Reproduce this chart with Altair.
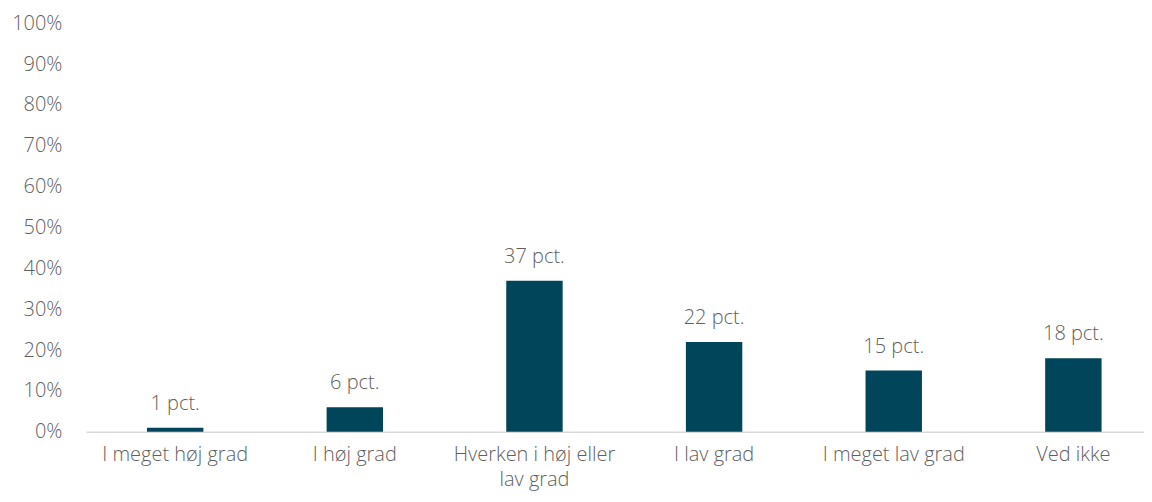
import altair as alt
import pandas as pd

categories = ["I meget høj grad", "I høj grad", "Hverken i høj eller lav grad",
              "I lav grad", "I meget lav grad", "Ved ikke"]
values = [1, 6, 37, 22, 15, 18]
labels = [f"{v} pct." for v in values]

df = pd.DataFrame({"cat": categories, "val": [v / 100 for v in values], "lab": labels})

FONT = "Open Sans"
GRAY = "#5f5f5f"
FS = 20

x = alt.X("cat:N", sort=categories, title=None,
          scale=alt.Scale(paddingInner=0.686, paddingOuter=0.288, align=0.59),
          axis=alt.Axis(labelAngle=0, ticks=False, domainColor="#d9d9d9", domainWidth=1.5,
                        labelFont=FONT, labelFontSize=FS, labelColor=GRAY, labelFontWeight=300,
                        labelPadding=13, labelLineHeight=25, labelLimit=300,
                        labelExpr="datum.label == 'Hverken i høj eller lav grad' ? ['Hverken i høj eller', 'lav grad'] : datum.label"))
y = alt.Y("val:Q", title=None,
          scale=alt.Scale(domain=[0, 1]),
          axis=alt.Axis(format=".0%", values=[i / 10 for i in range(11)], grid=False,
                        domain=False, ticks=False, labelFont=FONT, labelFontSize=FS,
                        labelFontWeight=300, labelColor=GRAY, labelPadding=24))

bars = alt.Chart(df).mark_bar(color="#004559").encode(x=x, y=y)
text = alt.Chart(df).mark_text(font=FONT, fontSize=FS, fontWeight=300, color=GRAY,
                               baseline="middle", dy=-24).encode(
    x=alt.X("cat:N", sort=categories), y="val:Q", text="lab:N")

chart = (bars + text).properties(
    width=1059, height=409,
    padding={"left": 3, "top": 5, "right": 0, "bottom": 3},
).configure_view(stroke=None)
chart.save("out.html", embed_options={"renderer": "svg", "actions": False})
